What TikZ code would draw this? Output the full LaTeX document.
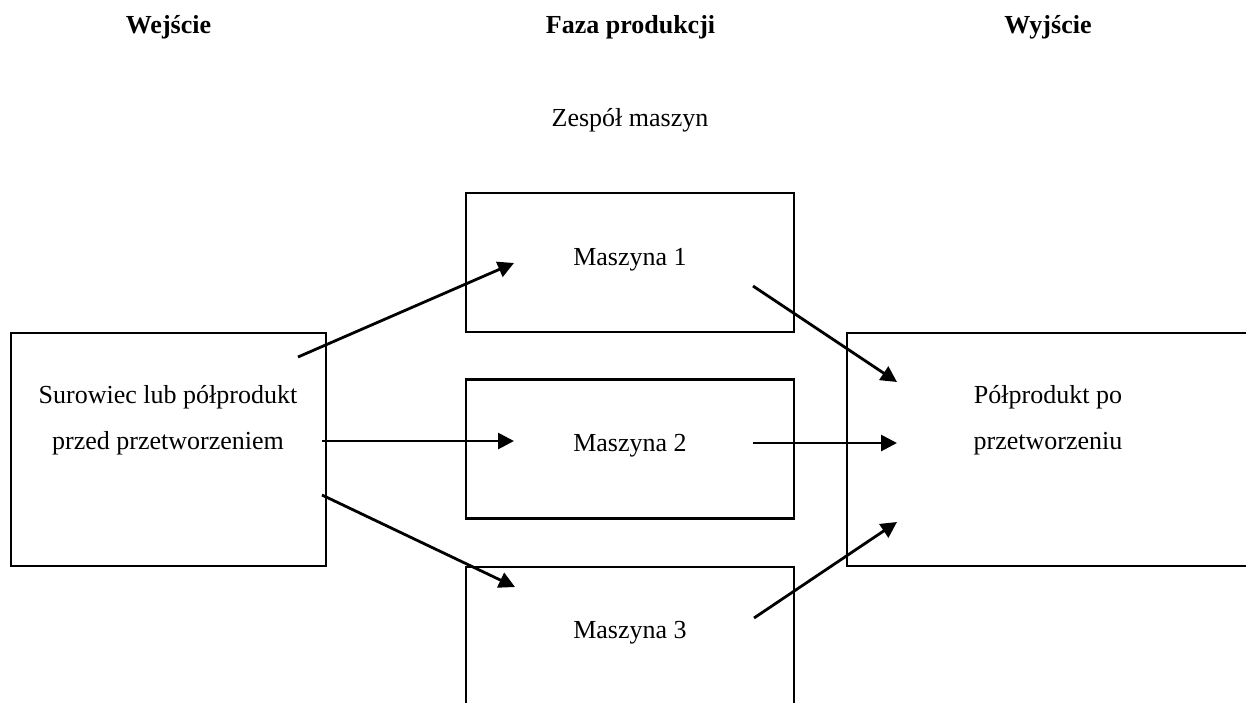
\documentclass[tikz,border=0pt]{standalone}
\usepackage{fontspec}
\setmainfont{Liberation Serif}
\usetikzlibrary{arrows.meta}
\begin{document}
\begin{tikzpicture}[x=1pt,y=-1pt,
  box/.style={draw,line width=2.8pt,rectangle,inner sep=0pt},
  lbl/.style={anchor=base,inner sep=0pt,font=\fontsize{26}{30}\selectfont},
  head/.style={anchor=base,inner sep=0pt,font=\fontsize{26}{30}\selectfont\bfseries},
  flow/.style={line width=2.8pt,-{Triangle[length=16pt,width=16pt]}}]
  \useasboundingbox (0,0) rectangle (1246,702);
  \clip (0,0) rectangle (1246,702);

  % column headings
  \node[head] (hin)  at (168.5,33) {Wejście};
  \node[head] (hmid) at (630.5,33) {Faza produkcji};
  \node[head] (hout) at (1048,33) {Wyjście};
  \node[lbl]  (grp)  at (630,126) {Zespół maszyn};

  % boxes
  \node[box,minimum width=315pt,minimum height=233pt] (src) at (168.5,449.5) {};
  \node[box,minimum width=328pt,minimum height=139pt] (m1) at (630,262.5) {};
  \node[box,minimum width=328pt,minimum height=139pt] (m2) at (630,449) {};
  \node[box,minimum width=328pt,minimum height=139pt] (m3) at (630,636.5) {};
  \node[box,minimum width=400pt,minimum height=233pt] (dst) at (1047,449.5) {};

  % box texts
  \node[lbl] (srcA) at (168,403) {Surowiec lub półprodukt};
  \node[lbl] (srcB) at (168,449) {przed przetworzeniem};
  \node[lbl] (m1t) at (630,265) {Maszyna 1};
  \node[lbl] (m2t) at (630,451.5) {Maszyna 2};
  \node[lbl] (m3t) at (630,638) {Maszyna 3};
  \node[lbl] (dstA) at (1048,403) {Półprodukt po};
  \node[lbl] (dstB) at (1048,449) {przetworzeniu};

  % arrow end points
  \coordinate (s1) at (298,357);
  \coordinate (s2) at (322,441);
  \coordinate (s3) at (322,495);
  \coordinate (e1) at (514,263);
  \coordinate (e2) at (514,441);
  \coordinate (e3) at (515,587);
  \coordinate (o1) at (753,286);
  \coordinate (o2) at (753,443);
  \coordinate (o3) at (754,618);
  \coordinate (t1) at (897,382);
  \coordinate (t2) at (897,443);
  \coordinate (t3) at (897,522);

  % flows
  \draw[flow] (s1) -- (e1);
  \draw[flow] (s2) -- (e2);
  \draw[flow] (s3) -- (e3);
  \draw[flow] (o1) -- (t1);
  \draw[flow] (o2) -- (t2);
  \draw[flow] (o3) -- (t3);
\end{tikzpicture}
\end{document}
